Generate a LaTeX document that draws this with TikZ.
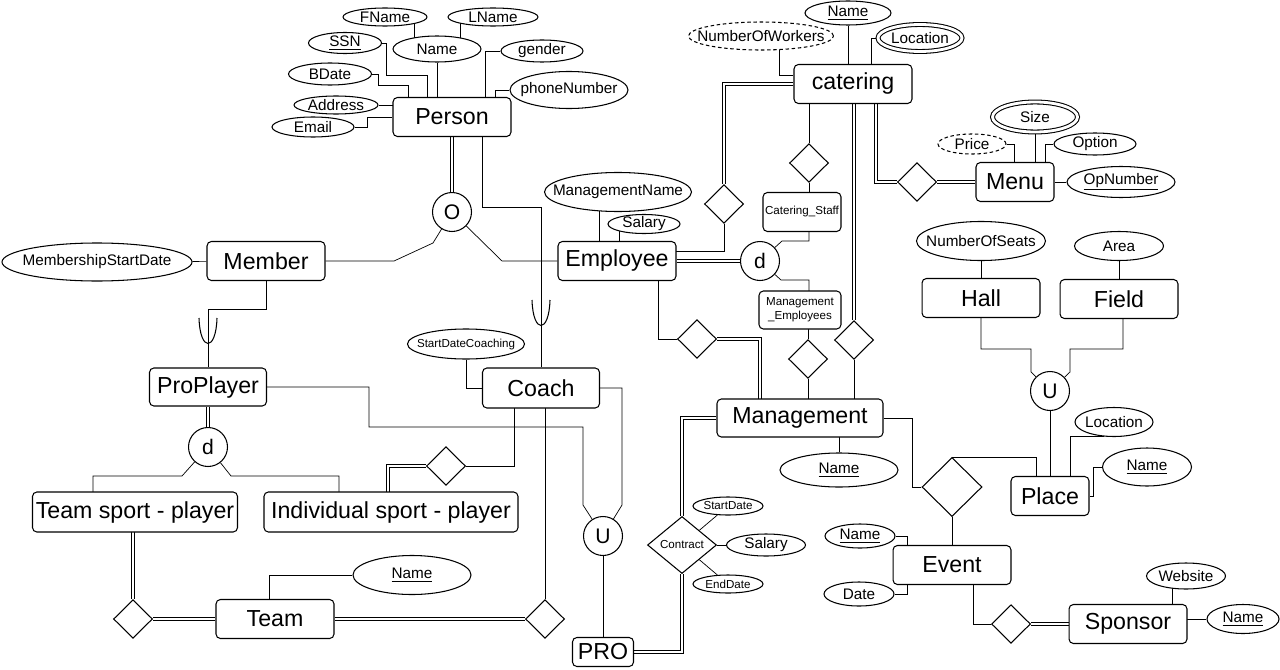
\documentclass[tikz,border=0pt]{standalone}
\usepackage{fontspec}
\setmainfont{Liberation Sans}
\usetikzlibrary{shapes.geometric}
\usetikzlibrary{backgrounds}

\begin{document}
\begin{tikzpicture}[x=0.02cm, y=-0.02cm, line width=0.6pt,
	entity/.style={draw, fill=white, rectangle, rounded corners=2.5pt, inner sep=0pt, minimum width=2.36cm, minimum height=0.78cm, font=\fontsize{13.2}{15}\selectfont},
	attr/.style={draw, fill=white, ellipse, inner sep=-1.5cm, font=\fontsize{8.7}{10}\selectfont},
	smalltext/.style={font=\fontsize{6.6}{8}\selectfont},
	rel/.style={draw, fill=white, diamond, inner sep=0pt, minimum width=0.78cm, minimum height=0.77cm},
	joint/.style={draw, fill=white, circle, inner sep=0pt, minimum size=0.78cm, font=\fontsize{12}{14}\selectfont},
	weak/.style={double, double distance=1.4pt},
	derived/.style={dash pattern=on 2pt off 1.5pt},
	multi/.style={double, double distance=1.6pt},
	wh/.style 2 args={minimum width=#1*0.02cm, minimum height=#2*0.02cm}]

	\useasboundingbox (0,0) rectangle (1280,669);

	\node[entity] (person) at (452,117) {Person};
	\node[attr, wh={84}{18}] (fname) at (385,17) {FName};
	\node[attr, wh={90}{18}] (lname) at (493,17) {LName};
	\node[attr, wh={73}{21}] (ssn) at (345,43) {\underline{SSN}};
	\node[attr, wh={88}{26}] (pname) at (437,49) {Name};
	\node[attr, wh={82}{22}] (gender) at (542,51) {gender};
	\node[attr, wh={83}{22}] (bdate) at (330,74) {BDate};
	\node[attr, wh={118}{37}] (phone) at (569,90) {phoneNumber};
	\node[attr, wh={84}{18}] (address) at (336,105) {Address};
	\node[attr, wh={82}{20}] (email) at (313,127) {Email};

	\node[joint] (overlap) at (452,212) {O};
	\node[entity] (member) at (266,261) {Member};
	\node[attr, wh={190}{38}] (msdate) at (97,262) {MembershipStartDate};
	\node[entity] (employee) at (617,261) {Employee};
	\node[attr, wh={147}{39}] (mgmtname) at (618,192) {ManagementName};
	\node[attr, wh={72}{19}] (esalary) at (644,224) {Salary};

	\node[entity] (catering) at (853,84) {catering};
	\node[attr, wh={86}{24}] (cname) at (848,13) {\underline{Name}};
	\node[attr, derived, wh={145}{28}] (nworkers) at (761,36) {NumberOfWorkers};
	\node[attr, multi, wh={84}{27}] (cloc) at (920,38) {Location};
	\node[rel] (relcatemp) at (724,204) {};
	\node[rel] (relcatstaff) at (809,163) {};
	\node[entity, smalltext, wh={78}{39}] (cstaff) at (802,212) {Catering\_Staff};
	\node[joint] (demp) at (760,261) {d};
	\node[entity, smalltext, align=center, wh={82}{38}] (memp) at (800,310) {Management\\\_Employees};
	\node[rel] (relmemp) at (808,359) {};
	\node[rel] (relcatman) at (854,340) {};
	\node[rel] (relempman) at (697,339) {};
	\node[entity, wh={166}{38}] (management) at (800,418) {Management};
	\node[attr, wh={118}{34}] (mname) at (839,470) {\underline{Name}};
	\node[rel] (relcatmenu) at (917,182) {};
	\node[entity, wh={78}{39}] (menu) at (1015,182) {Menu};
	\node[attr, multi, wh={85}{30}] (size) at (1035,117) {Size};
	\node[attr, derived, wh={68}{20}] (price) at (972,144) {Price};
	\node[attr, wh={82}{22}] (option) at (1095,144) {Option};
	\node[attr, wh={108}{31}] (opnum) at (1121,182) {\underline{OpNumber}};

	\node[entity, wh={117}{38}] (proplayer) at (208,387) {ProPlayer};
	\node[joint] (dpro) at (208,447) {d};
	\node[entity, wh={117}{40}] (coach) at (541,388) {Coach};
	\node[attr, smalltext, wh={117}{30}] (sdc) at (466,344) {StartDateCoaching};
	\node[entity, wh={205}{40}] (teamsport) at (135,512) {Team sport - player};
	\node[entity, wh={254}{40}] (indiv) at (391,512) {Individual sport - player};
	\node[rel] (relindiv) at (446,466) {};
	\node[entity] (team) at (275,619) {Team};
	\node[attr, wh={118}{39}] (tname) at (412,575) {\underline{Name}};
	\node[rel] (relteamsp) at (133,619) {};
	\node[rel] (relteamcoach) at (545,619) {};
	\node[joint] (upro) at (603,536) {U};
	\node[entity, wh={61}{29}] (pro) at (603,652) {PRO};
	\node[rel, smalltext, wh={69}{57}] (contract) at (682,545) {Contract};
	\node[attr, smalltext, wh={70}{18}] (startdate) at (728,506) {StartDate};
	\node[attr, wh={79}{22}] (csalary) at (766,545) {Salary};
	\node[attr, smalltext, wh={70}{18}] (enddate) at (728,584) {EndDate};

	\node[entity] (hall) at (981,298) {Hall};
	\node[entity] (field) at (1119,299) {Field};
	\node[attr, wh={129}{39}] (seats) at (981,241) {NumberOfSeats};
	\node[attr, wh={89}{29}] (area) at (1119,246) {Area};
	\node[joint] (uplace) at (1050,391) {U};
	\node[entity, wh={78}{39}] (place) at (1050,496) {Place};
	\node[attr, wh={78}{29}] (ploc) at (1114,422) {Location};
	\node[attr, wh={89}{38}] (plname) at (1147,467) {\underline{Name}};
	\node[rel, wh={60}{59}] (relevplace) at (952,487) {};
	\node[entity] (event) at (952,565) {Event};
	\node[attr, wh={70}{24}] (evname) at (860,536) {\underline{Name}};
	\node[attr, wh={70}{24}] (evdate) at (859,594) {Date};
	\node[rel] (relsponsor) at (1011,624) {};
	\node[entity] (sponsor) at (1128,624) {Sponsor};
	\node[attr, wh={79}{26}] (website) at (1186,576) {Website};
	\node[attr, wh={72}{29}] (spname) at (1243,619) {\underline{Name}};

	\draw (199,318) .. controls (200,352) and (216,352) .. (217,318);
	\draw (532,300) .. controls (533,334) and (549,334) .. (550,300);

	\begin{scope}[on background layer]
	\draw (fname -| 414,0) -- (pname -| 414,0);
	\draw (lname -| 460,0) -- (pname -| 460,0);
	\draw (ssn) -| (386,75) -| (person -| 427,0);
	\draw (pname) -- (pname |- person);
	\draw (bdate) -| (378,85) -| (person -| 408,0);
	\draw (gender) -| (person -| 485,0);
	\draw (phone) -| (person -| 495,0);
	\draw (address) -- (address -| person);
	\draw (email) -| (367,117) -- (person);
	\draw[weak] (person) -- (overlap);
	\draw (member) -- (394,261) -- (433,243) -- (overlap);
	\draw (overlap) -- (502,261) -- (employee);
	\draw (msdate) -- (member);

	\draw (cname) -- (cname |- catering);
	\draw (nworkers -| 779,0) |- (catering.west |- 0,75);
	\draw (cloc) -| (catering -| 871,0);
	\draw[weak] (catering) -| (relcatemp);
	\draw (relcatemp) |- (employee.center |- 0,251);
	\draw[weak] (employee) -- (demp);
	\draw (demp) -- (782,241) -| (cstaff -| 809,0);
	\draw (demp) -- (781,280) -| (memp -| 809,0);
	\draw (catering -| 809,0) -- (relcatstaff);
	\draw (relcatstaff) -- (relcatstaff |- cstaff);
	\draw (memp -| 808,0) -- (relmemp);
	\draw (relmemp) -- (relmemp |- management);
	\draw[weak] (catering -| 854,0) -- (relcatman);
	\draw (relcatman) -- (relcatman |- management);
	\draw[weak] (catering -| 876,0) |- (relcatmenu);
	\draw[weak] (relcatmenu) -- (menu);
	\draw (price) -| (menu -| 1014,0);
	\draw (size) -- (size |- menu);
	\draw (option) -| (menu -| 1045,0);
	\draw (opnum) -- (menu);
	\draw (mgmtname -| 599,0) -- (employee -| 599,0);
	\draw (esalary -| 619,0) -- (employee -| 619,0);
	\draw (employee -| 658,0) |- (relempman);
	\draw[weak] (relempman) -| (management -| 760,0);

	\draw (member) |- (proplayer |- 0,309) -- (proplayer);
	\draw (person -| 482,0) |- (coach |- 0,207) -- (coach);
	\draw (sdc) |- (coach);
	\draw[weak] (proplayer) -- (dpro);
	\draw (dpro) -- (182,476) -| (teamsport -| 93,0);
	\draw (dpro) -- (231,476) -| (indiv -| 339,0);
	\draw (proplayer) -| (369,427) -| (583,505) -- (upro);
	\draw (coach) -| (622,505) -- (upro);
	\draw (coach -| 514,0) |- (relindiv);
	\draw[weak] (relindiv) -| (indiv -| 388,0);
	\draw (relteamcoach |- coach) -- (relteamcoach);
	\draw[weak] (team) -- (relteamcoach);
	\draw[weak] (teamsport -| relteamsp) -- (relteamsp);
	\draw[weak] (relteamsp) -- (team);
	\draw (tname) -| (team -| 269,0);
	\draw (upro) -- (pro);
	\draw[weak] (pro) -| (contract);
	\draw[weak] (contract) |- (management);
	\draw (contract) -- (startdate);
	\draw (contract) -- (csalary);
	\draw (contract) -- (enddate);
	\draw (mname) -- (mname |- management);

	\draw (management) -| (912,487) -- (relevplace);
	\draw (relevplace.north) -| (place -| 1036,0);
	\draw (relevplace) -- (event);
	\draw (evname) -| (event -| 907,0);
	\draw (evdate) -| (event -| 907,0);
	\draw (event -| 973,0) |- (relsponsor);
	\draw[weak] (relsponsor) -- (sponsor);
	\draw (website -| 1172,0) -- (sponsor -| 1172,0);
	\draw (spname) -- (spname -| sponsor);
	\draw (ploc.235) -| (place -| 1070,0);
	\draw (plname) -| (1093,496) -- (place);
	\draw (uplace) -- (place);
	\draw (hall) |- (1031,349) -- (1031,372) -- (uplace);
	\draw (field -| 1123,0) |- (1070,349) -- (1070,372) -- (uplace);
	\draw (seats) -- (seats |- hall);
	\draw (area) -- (field);
	\end{scope}
\end{tikzpicture}
\end{document}
